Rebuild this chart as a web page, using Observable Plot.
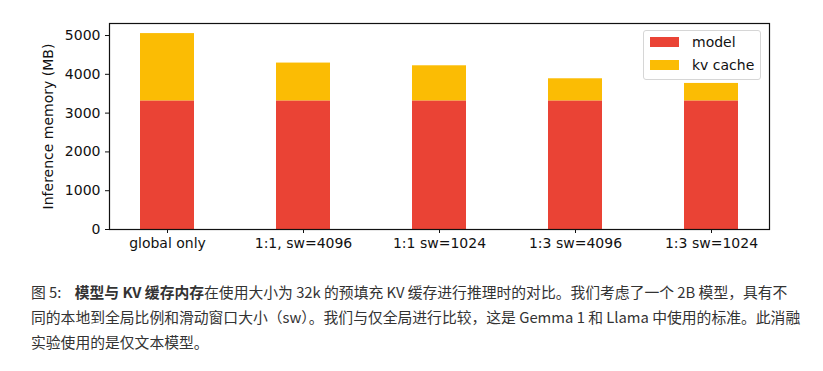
<!DOCTYPE html>
<html>
<head>
<meta charset="utf-8">
<script src="https://cdn.jsdelivr.net/npm/d3@7"></script>
<script src="https://cdn.jsdelivr.net/npm/@observablehq/plot@0.6"></script>
<style>
  body { margin: 0; background: #fff; width: 823px; height: 371px; overflow: hidden; }
  #wrap { position: relative; width: 823px; }
  #legend { position: absolute; left: 643px; top: 30px; width: 118px; height: 50px; border: 1px solid #d6d6d6; border-radius: 3px; background: rgba(255,255,255,0.85); font-family: "DejaVu Sans", sans-serif; font-size: 14px; color: #111; box-sizing: border-box; }
  .row { position: absolute; left: 6px; display: flex; align-items: center; }
  .sw { width: 29px; height: 10px; margin-right: 13px; }
  #caption { font-family: "Noto Sans CJK SC", "Noto Sans", sans-serif; font-size: 14.8px; line-height: 25px; color: #333; margin: 17px 0 0 31px; white-space: nowrap; }
</style>
</head>
<body>
<div id="wrap">
  <div id="chart"></div>
  <div id="legend"></div>
</div>
<div id="caption"></div>
<script>
const categories = ["global only", "1:1, sw=4096", "1:1 sw=1024", "1:3 sw=4096", "1:3 sw=1024"];
const modelMem = [3315, 3315, 3315, 3315, 3315];
const kvMem = [1735, 975, 905, 570, 450];
const seriesNames = ["model", "kv cache"];
const seriesColors = ["#EA4335", "#FBBC04"];
const yTicks = [0, 1000, 2000, 3000, 4000, 5000];

const data = [];
categories.forEach((c, i) => {
  data.push({category: c, series: seriesNames[0], value: modelMem[i]});
  data.push({category: c, series: seriesNames[1], value: kvMem[i]});
});

const chart = Plot.plot({
  width: 823,
  height: 262,
  marginLeft: 109,
  marginRight: 54,
  marginTop: 23,
  marginBottom: 33,
  style: {fontFamily: "DejaVu Sans, sans-serif", fontSize: "14px", color: "#111", background: "#fff"},
  x: {domain: categories, paddingInner: 0.6, paddingOuter: 0.2175, label: null, tickSize: 4, tickPadding: 5},
  y: {domain: [0, 5310], ticks: yTicks, tickFormat: d => String(d), label: "Inference memory (MB)", labelAnchor: "center", labelArrow: "none", labelOffset: 66, tickSize: 4, tickPadding: 5},
  color: {domain: seriesNames, range: seriesColors},
  marks: [
    Plot.barY(data, {x: "category", y: "value", fill: "series", order: seriesNames}),
    Plot.frame({stroke: "#111", strokeWidth: 1.2})
  ]
});
document.getElementById("chart").appendChild(chart);

const legend = document.getElementById("legend");
seriesNames.forEach((s, i) => {
  const row = document.createElement("div");
  row.className = "row";
  row.style.top = (i === 0 ? 3 : 26) + "px";
  row.innerHTML = `<span class="sw" style="background:${seriesColors[i]}"></span><span>${s}</span>`;
  legend.appendChild(row);
});

document.getElementById("caption").innerHTML =
  '图 5:&nbsp;&nbsp;&nbsp; <b>模型与 KV 缓存内存</b>在使用大小为 32k 的预填充 KV 缓存进行推理时的对比。我们考虑了一个 2B 模型，具有不<br>' +
  '同的本地到全局比例和滑动窗口大小（sw）。我们与仅全局进行比较，这是 Gemma 1 和 Llama 中使用的标准。此消融<br>' +
  '实验使用的是仅文本模型。';
</script>
</body>
</html>
